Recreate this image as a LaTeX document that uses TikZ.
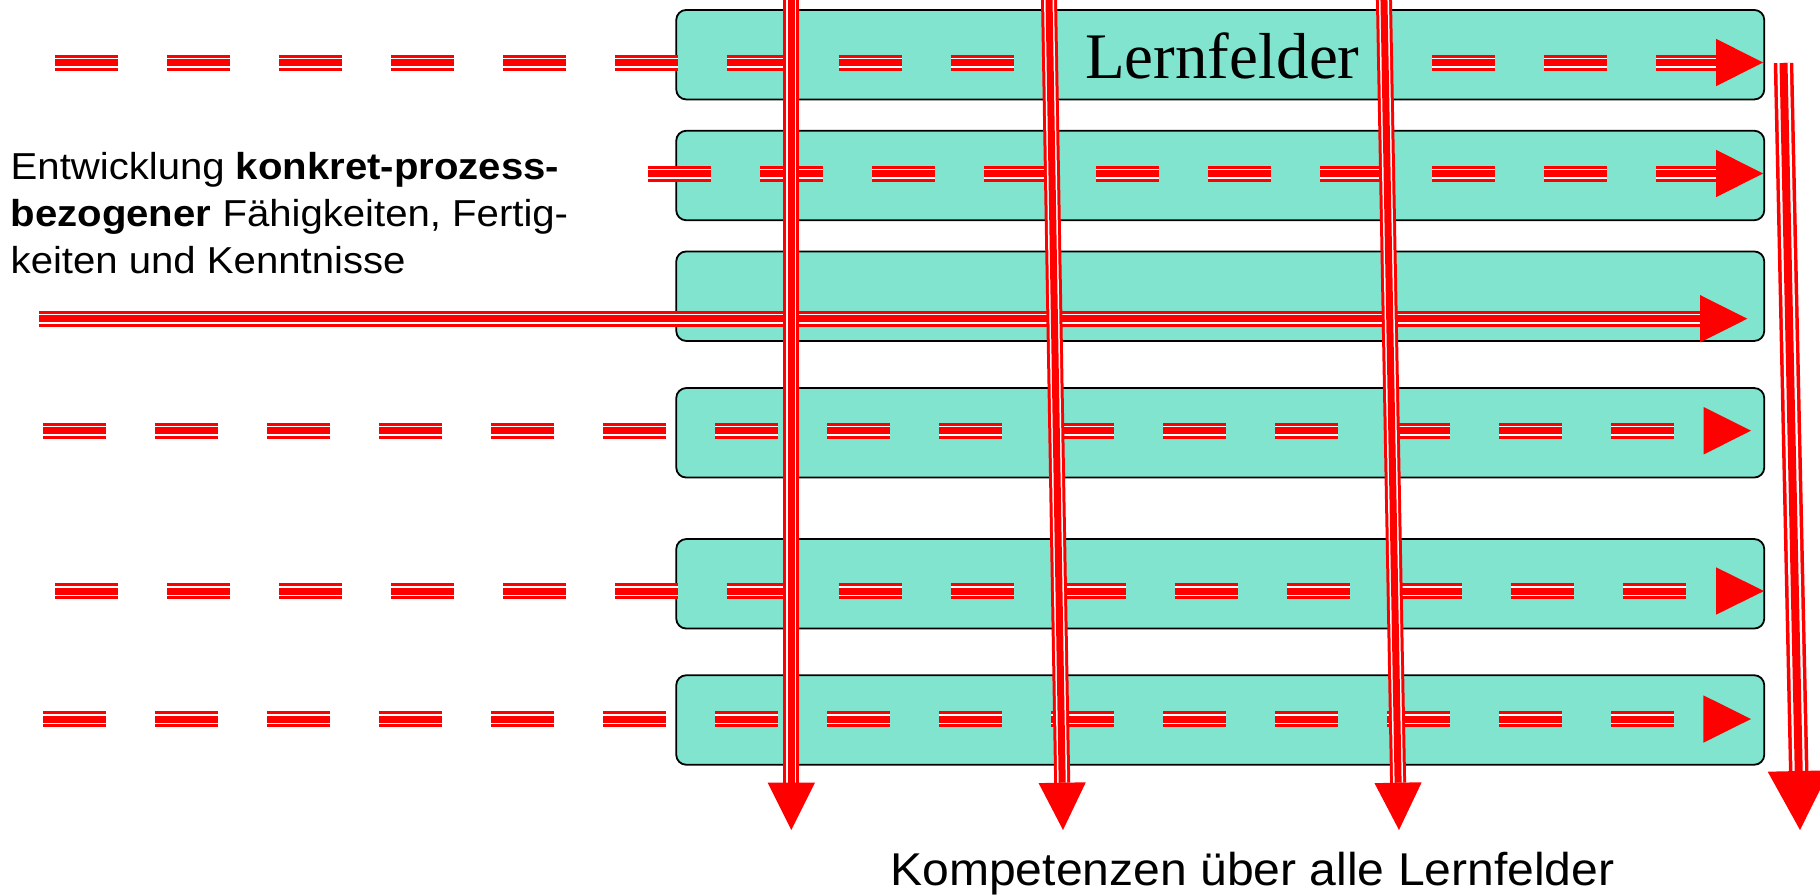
\documentclass[tikz,border=0pt]{standalone}
\usepackage{fontspec}
\setmainfont{Liberation Serif}
\newfontfamily\arialf{Liberation Sans}
\usetikzlibrary{calc}
\definecolor{boxfill}{RGB}{128,228,206}
% triple red/white/red line: #1 outer, #2 white, #3 centre, #4 options, #5 path
\newcommand\trl[5]{%
  \draw[red,line width=#1,#4]#5;
  \draw[white,line width=#2,#4]#5;
  \draw[red,line width=#3,#4]#5;}
% filled arrowhead: #1 base point, #2 tip, #3 half width
\newcommand\ahead[3]{%
  \fill[red] ($(#1)!#3!90:(#2)$) -- (#2) -- ($(#1)!#3!-90:(#2)$) -- cycle;}
\begin{document}
\begin{tikzpicture}[x=1pt,y=-1pt,
  box/.style={draw=black,line width=1.8pt,fill=boxfill,rounded corners=10pt,
    minimum width=1088pt,minimum height=89.5pt,inner sep=0pt},
  dsh/.style={dash pattern=on 63pt off 49pt},
  plain/.style={},
  lbl/.style={inner sep=0pt,anchor=base west}]
\useasboundingbox (0,0) rectangle (1820,895);

% boxes
\node[box] (b1) at (1220.25,54.7) {};
\node[box] (b2) at (1220.25,175.5) {};
\node[box] (b3) at (1220.25,296.2) {};
\node[box] (b4) at (1220.25,432.8) {};
\node[box] (b5) at (1220.25,583.8) {};
\node[box] (b6) at (1220.25,720) {};

% coordinates of horizontal lines
\coordinate (r1a) at (54.6,62.5);  \coordinate (r1b) at (1013.6,62.5);
\coordinate (r1c) at (1431.7,62.5); \coordinate (r1d) at (1716,62.5); \coordinate (r1t) at (1763,62.5);
\coordinate (r2a) at (647.7,173.5); \coordinate (r2d) at (1716,173.5); \coordinate (r2t) at (1763,173.5);
\coordinate (r3a) at (39.3,318.7);  \coordinate (r3d) at (1700,318.7); \coordinate (r3t) at (1747.3,318.7);
\coordinate (r4a) at (43,430.7);    \coordinate (r4b) at (1674,430.7);
\coordinate (r4d) at (1703.7,430.7); \coordinate (r4t) at (1751,430.7);
\coordinate (r5a) at (54.6,591);    \coordinate (r5b) at (1685.6,591);
\coordinate (r5d) at (1716,591);    \coordinate (r5t) at (1764,591);
\coordinate (r6a) at (43,719);      \coordinate (r6b) at (1674,719);
\coordinate (r6d) at (1703.3,719);  \coordinate (r6t) at (1751,719);

% horizontal lines
\trl{16pt}{10pt}{7pt}{dsh}{(r1a) -- (r1b)}
\trl{16pt}{10pt}{7pt}{dsh}{(r1c) -- (r1d)}
\trl{16pt}{10pt}{7pt}{dsh}{(r2a) -- (r2d)}
\trl{16pt}{10pt}{7pt}{plain}{(r3a) -- (r3d)}
\trl{16pt}{10pt}{7pt}{dsh}{(r4a) -- (r4b)}
\trl{16pt}{10pt}{7pt}{dsh}{(r5a) -- (r5b)}
\trl{16pt}{10pt}{7pt}{dsh}{(r6a) -- (r6b)}
\ahead{r1d}{r1t}{23.7pt}
\ahead{r2d}{r2t}{23.7pt}
\ahead{r3d}{r3t}{23.7pt}
\ahead{r4d}{r4t}{23.7pt}
\ahead{r5d}{r5t}{23.7pt}
\ahead{r6d}{r6t}{23.7pt}

% vertical lines
\coordinate (v1a) at (791.3,-20);  \coordinate (v1b) at (791.3,782.7);  \coordinate (v1t) at (791.3,830);
\coordinate (v2a) at (1048.7,-20); \coordinate (v2b) at (1062.2,782.7); \coordinate (v2t) at (1063,830);
\coordinate (v3a) at (1383.6,-20); \coordinate (v3b) at (1398.1,782.7); \coordinate (v3t) at (1399,830);
\coordinate (v4a) at (1783.5,63);  \coordinate (v4b) at (1798.7,771);   \coordinate (v4t) at (1800,830);
\trl{16pt}{10pt}{7pt}{plain}{(v1a) -- (v1b)}
\trl{16pt}{10pt}{7pt}{plain}{(v2a) -- (v2b)}
\trl{16pt}{10pt}{7pt}{plain}{(v3a) -- (v3b)}
\trl{19.5pt}{12.5pt}{8pt}{plain}{(v4a) -- (v4b)}
\ahead{v1b}{v1t}{23.6pt}
\ahead{v2b}{v2t}{23.6pt}
\ahead{v3b}{v3t}{23.6pt}
\ahead{v4b}{v4t}{31pt}

% texts
\node[lbl] (lf) at (1085,78) {\fontsize{65}{78}\selectfont Lernfelder};
\node[lbl] (t1) at (10.5,179) {\arialf\fontsize{37.5}{45}\selectfont\scalebox{1.07}[1]{Entwicklung \textbf{konkret-prozess-}}};
\node[lbl] (t2) at (10.5,226.5) {\arialf\fontsize{37.5}{45}\selectfont\scalebox{1.07}[1]{\textbf{bezogener} Fähigkeiten, Fertig-}};
\node[lbl] (t3) at (10.5,273) {\arialf\fontsize{37.5}{45}\selectfont\scalebox{1.07}[1]{keiten und Kenntnisse}};
\node[inner sep=0pt,anchor=base] (kp) at (1252.5,885.7) {\arialf\fontsize{46}{55}\selectfont\scalebox{1.045}[1]{Kompetenzen über alle Lernfelder}};
\end{tikzpicture}
\end{document}
